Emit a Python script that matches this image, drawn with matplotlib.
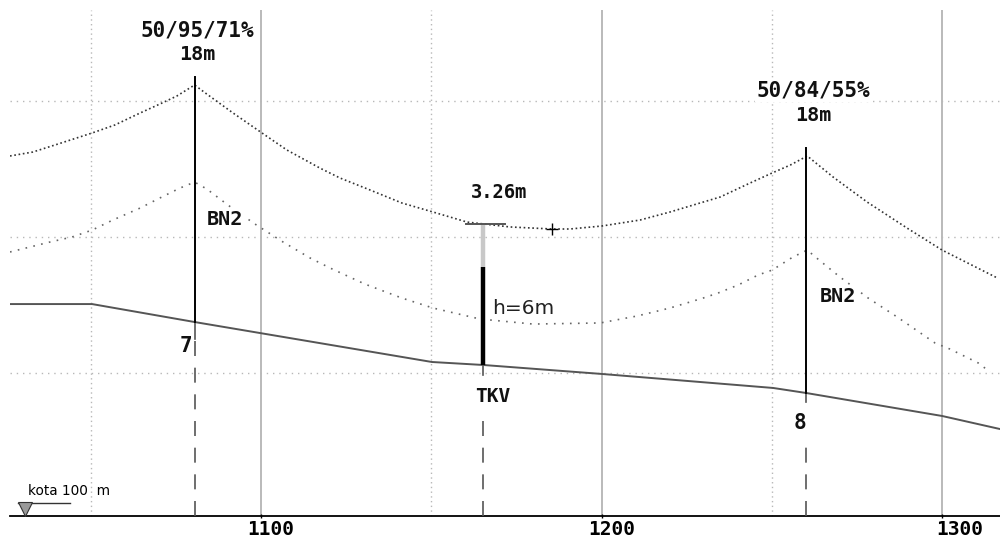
import matplotlib
matplotlib.use('Agg')
import matplotlib.pyplot as plt
from matplotlib.transforms import ScaledTranslation

# Distance along the line (m) and elevation (m)
upper_x = [1026.3, 1033.0, 1040.4, 1050.4, 1057.1, 1064.5, 1070.3, 1075.3, 1080.5, 1084.1, 1091.8, 1100.3,
           1107.6, 1117.3, 1123.2, 1132.0, 1141.4, 1150.5, 1160.5, 1173.1, 1185.5, 1190.7, 1200.1, 1211.3,
           1220.1, 1228.9, 1234.8, 1243.6, 1250.1, 1255.4, 1260.4, 1268.0, 1278.0, 1289.7, 1300.0, 1316.2]
upper_y = [125.96, 126.25, 126.84, 127.65, 128.24, 129.12, 129.78, 130.37, 131.18, 130.51, 129.12, 127.65,
           126.40, 125.07, 124.34, 123.46, 122.50, 121.84, 121.10, 120.74, 120.59, 120.59, 120.81, 121.25,
           121.84, 122.50, 122.94, 123.97, 124.71, 125.29, 125.96, 124.41, 122.57, 120.66, 119.04, 116.99]

lower_x = [1026.3, 1038.0, 1044.5, 1050.4, 1056.5, 1064.5, 1070.3, 1076.2, 1080.5, 1084.1, 1090.3, 1098.2,
           1106.5, 1114.4, 1120.3, 1130.5, 1141.4, 1150.5, 1164.3, 1179.9, 1199.6, 1210.4, 1220.1, 1229.8,
           1234.2, 1240.1, 1246.0, 1250.1, 1256.2, 1260.4, 1264.2, 1270.0, 1278.3, 1286.8, 1297.9, 1302.3,
           1310.6, 1314.1]
lower_y = [118.90, 119.63, 120.00, 120.51, 121.25, 122.13, 122.87, 123.60, 124.04, 123.53, 122.35, 120.96,
           119.63, 118.46, 117.72, 116.54, 115.51, 114.78, 113.97, 113.60, 113.68, 114.19, 114.78, 115.51,
           115.88, 116.47, 117.21, 117.57, 118.53, 119.04, 118.24, 117.06, 115.51, 114.12, 112.21, 111.76,
           110.74, 110.07]

ground_x = [1026.3, 1050.4, 1080.5, 1150.2, 1165.3, 1200.1, 1228.9, 1250.4, 1260.1, 1300.0, 1317.0]
ground_y = [115.07, 115.07, 113.75, 110.81, 110.59, 109.93, 109.34, 108.90, 108.53, 106.84, 105.88]

tower_x = [1080.5, 1260.1]
tower_base = [113.75, 108.53]
tower_height = 18

pole_x = 1165.3
pole_base = 110.59
pole_black_top = 117.79
pole_grey_top = 120.96

major_x = [1100, 1200, 1300]
minor_x = [1050, 1150, 1250]
grid_y = [110, 120, 130]
tick_labels = ['1100', '1200', '1300']
tick_shift_px = [10, 10, 18]

x_min, x_max = 1026.3, 1317.0
y_min, y_max = 97.72, 137.43
baseline = 99.45
grid_top = 136.7

fig = plt.figure(figsize=(10, 5.4), dpi=100)
ax = fig.add_axes([0.01, 0, 0.99, 1])
ax.set_xlim(x_min, x_max)
ax.set_ylim(y_min, y_max)

for s in ['top', 'left', 'right']:
    ax.spines[s].set_visible(False)
ax.spines['bottom'].set_position(('data', baseline))
ax.spines['bottom'].set_linewidth(1.3)
ax.set_yticks([])
ax.set_xticks(major_x)
ax.set_xticklabels(tick_labels, family='DejaVu Sans Mono', fontweight='bold', fontsize=14)
ax.tick_params(axis='x', length=3, width=1, pad=1, direction='inout')
for lab, shift in zip(ax.get_xticklabels(), tick_shift_px):
    lab.set_transform(lab.get_transform() + ScaledTranslation(shift / 100, 0, fig.dpi_scale_trans))

# grid
ax.vlines(major_x, baseline, grid_top, color='#b4b4b4', lw=1.3, zorder=1)
ax.vlines(minor_x, baseline, grid_top, color='#b8b8b8', lw=1, linestyles=[(0, (1, 2.4))], zorder=1)
ax.hlines(grid_y, x_min, x_max, color='#b8b8b8', lw=1, linestyles=[(0, (1, 3.5))], zorder=1)

# conductors and ground
ax.plot(upper_x, upper_y, color='#333333', lw=1.2, linestyle=(0, (1, 1.6)), zorder=2)
ax.plot(lower_x, lower_y, color='#666666', lw=1.2, linestyle=(0, (1, 3.8)), zorder=2)
ax.plot(ground_x, ground_y, color='#555555', lw=1.4, zorder=3)

# towers
for x, base in zip(tower_x, tower_base):
    ax.plot([x, x], [base, base + tower_height], color='black', lw=1.4, zorder=4)

# dashed drops below towers
dash = (0, (9, 7))
ax.plot([tower_x[0]] * 2, [baseline, 112.5], color='#555555', lw=1.2, linestyle=dash, zorder=3)
ax.plot([tower_x[0]] * 2, [112.5, tower_base[0]], color='#555555', lw=1.2, zorder=3)
ax.plot([tower_x[1]] * 2, [baseline, 104.8], color='#555555', lw=1.2, linestyle=dash, zorder=3)
ax.plot([tower_x[1]] * 2, [107.87, tower_base[1]], color='#555555', lw=1.2, zorder=3)
ax.plot([pole_x, pole_x], [baseline, 106.9], color='#555555', lw=1.2, linestyle=dash, zorder=3)
ax.plot([pole_x, pole_x], [109.85, pole_base], color='#555555', lw=1.2, zorder=3)

# pole TKV
ax.plot([pole_x, pole_x], [pole_black_top, pole_grey_top], color='#c8c8c8', lw=3.2, solid_capstyle='butt', zorder=4)
ax.plot([pole_x, pole_x], [pole_base, pole_black_top], color='black', lw=3.2, solid_capstyle='butt', zorder=4)
ax.plot([1160.2, 1171.7], [pole_grey_top, pole_grey_top], color='#555555', lw=1.4, zorder=4)
ax.plot([1185.5], [120.59], marker='+', color='black', ms=8, mew=1, zorder=5)

# level mark
ax.plot([1028.6, 1043.9], [100.44, 100.44], color='#333333', lw=1, zorder=3)
ax.plot([1030.7], [100.0], marker='v', ms=9.5, mfc='#999999', mec='#333333', mew=0.8, zorder=4)
ax.text(1043.6, 101.3, 'kota 100  m', family='DejaVu Sans', fontsize=9.8, ha='center', va='center', zorder=5)

# labels
mono = dict(family='DejaVu Sans Mono', fontweight='bold', ha='center', va='center', zorder=6, color='#111111')
white = dict(facecolor='white', edgecolor='none', pad=1)
ax.text(1081.2, 135.2, '50/95/71%', fontsize=15, bbox=white, **mono)
ax.text(1081.2, 133.4, '18m', fontsize=14.5, **mono)
ax.text(1262.1, 130.8, '50/84/55%', fontsize=15, bbox=white, **mono)
ax.text(1262.1, 128.97, '18m', fontsize=14.5, **mono)
ax.text(1089.4, 121.32, 'BN2', fontsize=14.5, bbox=white, **mono)
ax.text(1269.5, 115.66, 'BN2', fontsize=14.5, bbox=white, **mono)
ax.text(1078.0, 111.99, '7', fontsize=15, **mono)
ax.text(1258.3, 106.32, '8', fontsize=15, **mono)
ax.text(1168.1, 108.24, 'TKV', fontsize=14, **mono)
ax.text(1169.9, 123.24, '3.26m', fontsize=13.5, **mono)
ax.text(1176.9, 114.78, 'h=6m', family='DejaVu Sans', fontsize=14.5, ha='center', va='center', zorder=6, color='#222222')

fig.savefig('out.png', dpi=100)
